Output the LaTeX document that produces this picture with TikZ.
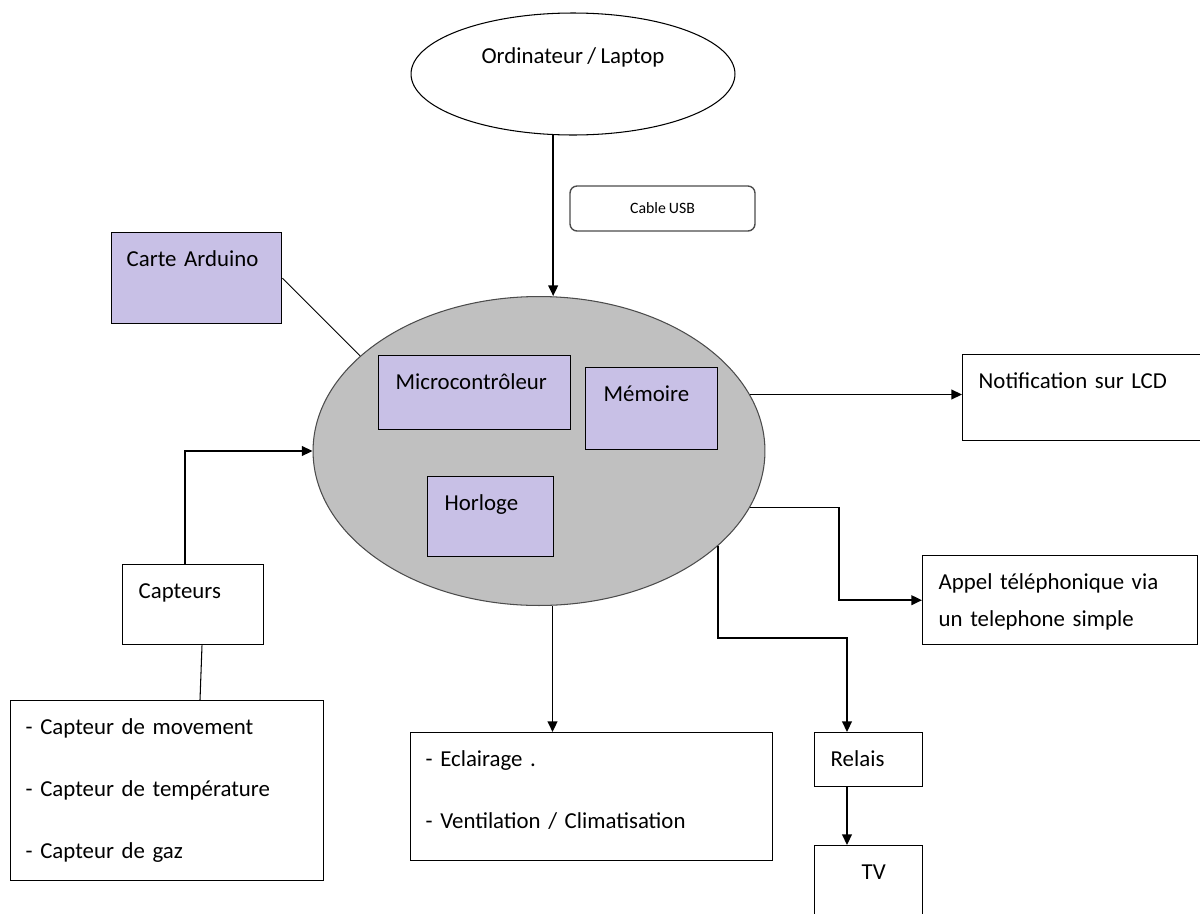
\documentclass[tikz,border=0pt]{standalone}
\usepackage{fontspec}
\setmainfont{Carlito}[WordSpace=0.85]
\usetikzlibrary{shapes.geometric}
\usetikzlibrary{arrows.meta}
\usetikzlibrary{calc}
\definecolor{lavande}{RGB}{200,192,230}
\definecolor{grismcu}{RGB}{192,192,192}

\begin{document}
\begin{tikzpicture}[x=0.02cm, y=-0.02cm,
    every node/.style={font=\fontsize{13}{15.6}\selectfont},
    boite/.style={draw, line width=0.8pt, anchor=north west, align=left,
      inner xsep=0.32cm, inner ysep=0pt, text height=0.68cm},
    bloc/.style={boite, fill=lavande},
    fleche/.style={line width=0.9pt, -{Triangle[length=6pt,width=5.5pt]}}]
  \useasboundingbox (0,0) rectangle (1200,913);

  % ordinateur et microcontroleur
  \node[draw, ellipse, line width=0.6pt, minimum width=6.48cm, minimum height=2.44cm,
    text height=0.25cm, text depth=0.69cm] (ordi) at (573,74) {Ordinateur / Laptop};
  \node[draw, rounded corners=4pt, draw=black!70, line width=0.8pt, minimum width=3.7cm,
    minimum height=0.9cm, font=\fontsize{9}{11}\selectfont] (usb) at (662.5,208.5) {Cable USB};
  \node[draw=black!70, ellipse, fill=grismcu, line width=0.6pt, minimum width=9.04cm,
    minimum height=6.18cm] (mcu) at (539,451) {};

  \node[bloc, inner xsep=0.3cm, text width=2.8cm, text depth=1.14cm] (arduino) at (111,232) {Carte Arduino};
  \node[bloc, inner xsep=0.34cm, text width=3.16cm, text depth=0.8cm] (micro) at (378,355) {Microcontrôleur};
  \node[bloc, inner xsep=0.36cm, text width=1.92cm, text depth=0.96cm] (memoire) at (585,367) {Mémoire};
  \node[bloc, inner xsep=0.34cm, text width=1.84cm, text depth=0.92cm] (horloge) at (427,476) {Horloge};

  % entrees
  \node[boite, text width=2.18cm, text depth=0.92cm] (capteurs) at (122,564) {Capteurs};
  \node[boite, inner xsep=0.3cm, text width=5.66cm, text depth=2.92cm] (liste) at (10,700)
    {- Capteur de movement\\[0.69cm]- Capteur de température\\[0.69cm]- Capteur de gaz};

  % sorties
  \node[boite, text width=4.56cm, text depth=1.04cm] (notif) at (962,354) {Notification sur LCD};
  \node[boite, text width=4.86cm, text depth=1.1cm] (appel) at (922,555)
    {Appel téléphonique via\\[0.19cm]un telephone simple};
  \node[boite, inner xsep=0.3cm, text width=6.64cm, text depth=1.88cm] (eclairage) at (410,732)
    {- Eclairage .\\[0.69cm]- Ventilation / Climatisation};
  \node[boite, text width=1.52cm, text depth=0.4cm] (relais) at (814,732) {Relais};
  \node[boite, align=center, text width=1.52cm, text depth=1.32cm] (tv) at (814,845) {\hspace{0.2cm}TV};

  \draw[fleche] (ordi.-108) -- (ordi.-108 |- mcu.north);
  \draw[line width=0.5pt] (arduino.east) -- (mcu.152);
  \draw[fleche] ($(capteurs.north west)+(63,0)$) |- (mcu.west);
  \draw[line width=0.6pt] ($(capteurs.south west)+(80,0)$) -- ($(liste.north west)+(190,0)$);
  \draw[fleche] (mcu.15) -- (mcu.15 -| notif.west);
  \draw[fleche] (mcu.-15) -- ++(89,0) |- (appel.west);
  \draw[fleche] (mcu.-85) -- (mcu.-85 |- eclairage.north);
  \draw[fleche] (mcu.-28.6) -- ++(0,92) -| ($(relais.north west)+(33,0)$);
  \draw[fleche] ($(relais.south west)+(33,0)$) -- ($(tv.north west)+(33,0)$);
\end{tikzpicture}
\end{document}
